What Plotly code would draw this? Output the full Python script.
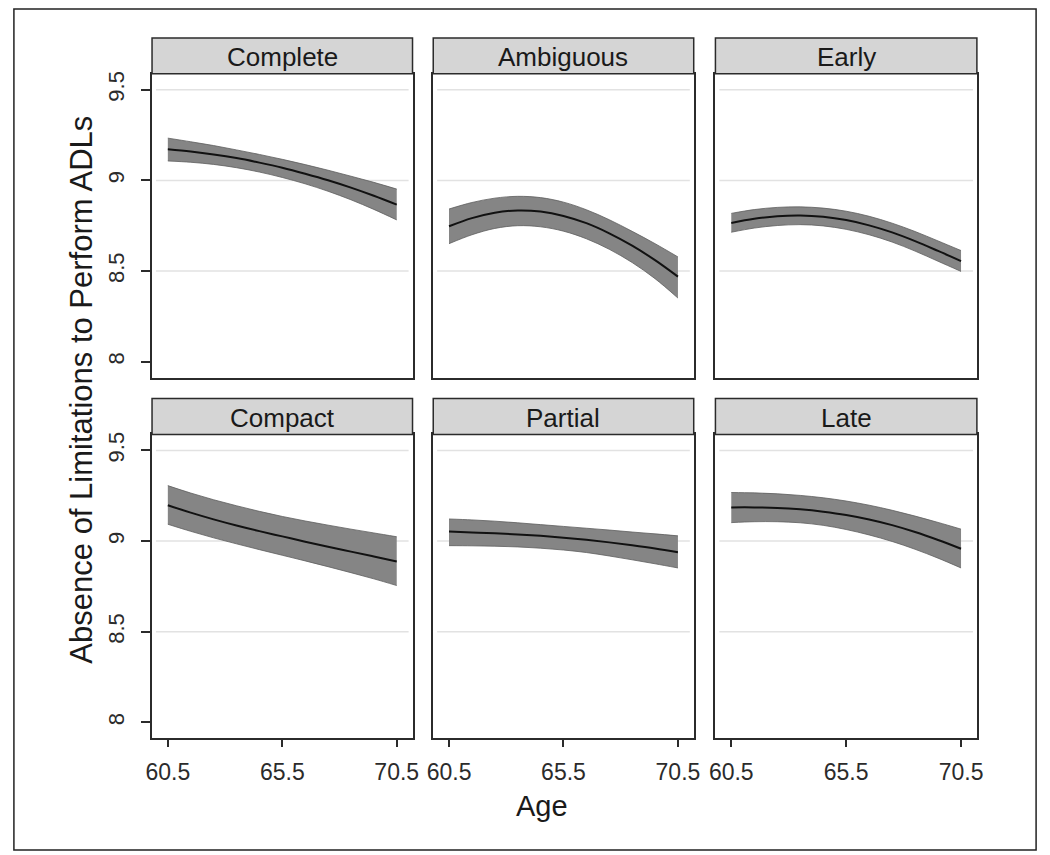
import plotly.graph_objects as go

# ---------------- data ----------------
ages = [60.5, 61.5, 62.5, 63.5, 64.5, 65.5, 66.5, 67.5, 68.5, 69.5, 70.5]
panel_titles = ["Complete", "Ambiguous", "Early", "Compact", "Partial", "Late"]

complete_mean = [9.171, 9.159, 9.143, 9.123, 9.098, 9.070, 9.037, 9.001, 8.960, 8.915, 8.866]
complete_hi   = [9.233, 9.213, 9.192, 9.168, 9.143, 9.116, 9.087, 9.056, 9.023, 8.989, 8.952]
complete_lo   = [9.107, 9.100, 9.088, 9.070, 9.046, 9.016, 8.981, 8.940, 8.893, 8.840, 8.782]

ambiguous_mean = [8.747, 8.792, 8.822, 8.834, 8.828, 8.804, 8.764, 8.708, 8.640, 8.560, 8.469]
ambiguous_hi   = [8.842, 8.878, 8.902, 8.912, 8.905, 8.880, 8.838, 8.783, 8.719, 8.651, 8.578]
ambiguous_lo   = [8.651, 8.700, 8.735, 8.750, 8.744, 8.720, 8.678, 8.620, 8.547, 8.458, 8.351]

early_mean = [8.765, 8.788, 8.802, 8.806, 8.799, 8.781, 8.752, 8.713, 8.665, 8.611, 8.555]
early_hi   = [8.818, 8.839, 8.851, 8.854, 8.847, 8.830, 8.802, 8.764, 8.718, 8.666, 8.613]
early_lo   = [8.714, 8.737, 8.751, 8.756, 8.749, 8.730, 8.700, 8.660, 8.610, 8.554, 8.498]

compact_mean = [9.198, 9.157, 9.120, 9.086, 9.055, 9.026, 8.997, 8.969, 8.942, 8.915, 8.888]
compact_hi   = [9.306, 9.265, 9.228, 9.195, 9.164, 9.136, 9.111, 9.088, 9.066, 9.045, 9.024]
compact_lo   = [9.093, 9.054, 9.018, 8.985, 8.953, 8.922, 8.891, 8.859, 8.826, 8.792, 8.755]

partial_mean = [9.053, 9.048, 9.043, 9.037, 9.029, 9.019, 9.007, 8.993, 8.977, 8.959, 8.938]
partial_hi   = [9.122, 9.117, 9.110, 9.101, 9.091, 9.081, 9.071, 9.061, 9.050, 9.040, 9.029]
partial_lo   = [8.975, 8.974, 8.972, 8.968, 8.961, 8.951, 8.937, 8.918, 8.897, 8.875, 8.852]

late_mean = [9.186, 9.186, 9.183, 9.175, 9.162, 9.144, 9.119, 9.088, 9.050, 9.006, 8.958]
late_hi   = [9.268, 9.266, 9.261, 9.252, 9.239, 9.221, 9.198, 9.170, 9.138, 9.103, 9.066]
late_lo   = [9.102, 9.107, 9.107, 9.101, 9.087, 9.064, 9.034, 8.998, 8.955, 8.906, 8.852]

x_ticks = [60.5, 65.5, 70.5]
x_ticktext = ["60.5", "65.5", "70.5"]
y_ticks = [8, 8.5, 9, 9.5]
y_ticktext = ["8", "8.5", "9", "9.5"]
grid_vals = [8.5, 9, 9.5]

series = [
    (complete_mean, complete_hi, complete_lo),
    (ambiguous_mean, ambiguous_hi, ambiguous_lo),
    (early_mean, early_hi, early_lo),
    (compact_mean, compact_hi, compact_lo),
    (partial_mean, partial_hi, partial_lo),
    (late_mean, late_hi, late_lo),
]

# ---------------- layout helpers ----------------
W, H = 1050, 855
def px(x):
    return x / W
def py(y):
    return 1 - y / H

col_px = [(147, 411), (432, 696), (718, 983)]
row_plot_px = [(71, 376), (433, 738)]     # top, bottom in pixels
row_head_px = [(35, 71), (397, 433)]

FONT = "Liberation Sans, Arial, Helvetica, sans-serif"
DARK = "#2b2b2b"

fig = go.Figure()
layout = dict(
    width=W, height=H, autosize=False,
    margin=dict(l=0, r=0, t=0, b=0),
    paper_bgcolor="white", plot_bgcolor="white",
    showlegend=False,
    font=dict(family=FONT, color=DARK),
)
shapes = []
annotations = []

for i, (mean, hi, lo) in enumerate(series):
    idx = i + 1
    r, c = divmod(i, 3)
    xa = "x" if idx == 1 else f"x{idx}"
    ya = "y" if idx == 1 else f"y{idx}"
    xkey = "xaxis" if idx == 1 else f"xaxis{idx}"
    ykey = "yaxis" if idx == 1 else f"yaxis{idx}"

    fig.add_trace(go.Scatter(x=ages, y=hi, xaxis=xa, yaxis=ya, mode="lines",
                             line=dict(color="#5e5e5e", width=0.8, shape="spline"),
                             hoverinfo="skip"))
    fig.add_trace(go.Scatter(x=ages, y=lo, xaxis=xa, yaxis=ya, mode="lines",
                             fill="tonexty", fillcolor="#858585",
                             line=dict(color="#5e5e5e", width=0.8, shape="spline"),
                             hoverinfo="skip"))
    fig.add_trace(go.Scatter(x=ages, y=mean, xaxis=xa, yaxis=ya, mode="lines",
                             line=dict(color="#111111", width=2, shape="spline")))

    x0, x1 = col_px[c]
    yt, yb = row_plot_px[r]
    bottom = (r == 1)
    first = (c == 0)
    layout[xkey] = dict(
        domain=[px(x0), px(x1)], anchor=ya, range=[59.81, 71.19],
        tickvals=x_ticks, ticktext=x_ticktext,
        showticklabels=bottom, ticks="outside" if bottom else "",
        ticklen=7, tickwidth=1.5, tickcolor=DARK,
        tickfont=dict(size=23, color=DARK, family=FONT),
        ticklabelstandoff=5,
        showline=True, mirror=True, linecolor=DARK, linewidth=1.5,
        showgrid=False, zeroline=False, fixedrange=True,
    )
    layout[ykey] = dict(
        domain=[py(yb), py(yt)], anchor=xa, range=[7.912, 9.588],
        tickvals=y_ticks, ticktext=y_ticktext,
        showticklabels=first, ticks="outside" if first else "",
        ticklen=9, tickwidth=1.5, tickcolor=DARK, tickangle=-90,
        tickfont=dict(size=22, color=DARK, family=FONT),
        ticklabelstandoff=8,
        showline=True, mirror=True, linecolor=DARK, linewidth=1.5,
        showgrid=False, zeroline=False, fixedrange=True,
    )
    for gv in grid_vals:
        shapes.append(dict(type="line", xref=f"{xa} domain", yref=ya,
                           x0=0.015, x1=0.985, y0=gv, y1=gv,
                           line=dict(color="#e2e2e2", width=1.5), layer="below"))
    ht, hb = row_head_px[r]
    shapes.append(dict(type="rect", xref="paper", yref="paper",
                       x0=px(x0), x1=px(x1), y0=py(hb), y1=py(ht),
                       fillcolor="#d5d5d5", line=dict(color=DARK, width=1.5), layer="above"))
    annotations.append(dict(text=panel_titles[i], xref="paper", yref="paper",
                            x=px((x0 + x1) / 2), y=py((ht + hb) / 2 + 1),
                            xanchor="center", yanchor="middle", showarrow=False,
                            font=dict(size=26, color="#1a1a1a", family=FONT)))

# outer frame
shapes.append(dict(type="rect", xref="paper", yref="paper",
                   x0=px(7), x1=px(1043), y0=py(850), y1=py(6),
                   line=dict(color="#222222", width=1.5), fillcolor="rgba(0,0,0,0)"))

annotations.append(dict(text="Age", xref="paper", yref="paper",
                        x=px(542), y=py(806), xanchor="center", yanchor="middle",
                        showarrow=False, font=dict(size=29, color="#1a1a1a", family=FONT)))
annotations.append(dict(text="Absence of Limitations to Perform ADLs", xref="paper", yref="paper",
                        x=px(76), y=py(388), xanchor="center", yanchor="middle",
                        textangle=-90, showarrow=False,
                        font=dict(size=31, color="#1a1a1a", family=FONT)))

layout["shapes"] = shapes
layout["annotations"] = annotations
fig.update_layout(**layout)
fig.write_html("out.html",
               config={"responsive": False, "displayModeBar": False},
               post_script="document.body.style.margin='0';document.body.style.padding='0';"
                           "document.documentElement.style.overflow='hidden';")
